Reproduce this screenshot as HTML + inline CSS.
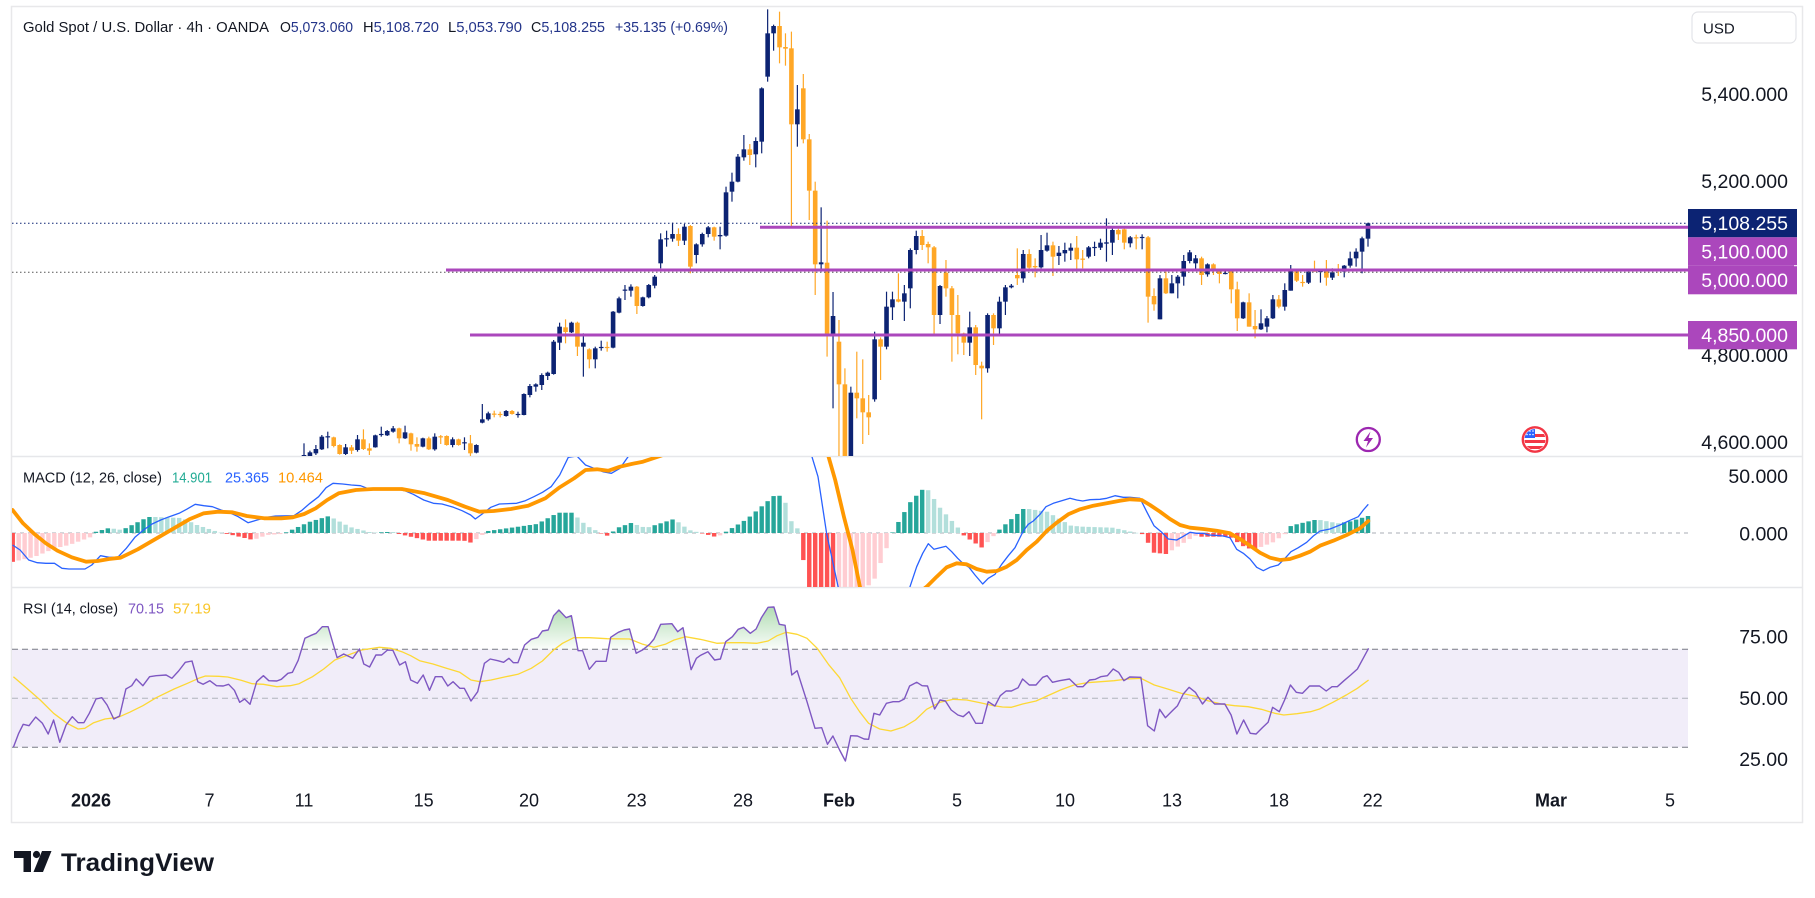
<!DOCTYPE html>
<html><head><meta charset="utf-8">
<style>
html,body{margin:0;padding:0;background:#fff;width:1815px;height:898px;overflow:hidden}
svg{display:block}
text{font-family:"Liberation Sans",sans-serif}
</style></head><body>
<svg id="s" width="1815" height="898" viewBox="0 0 1815 898" xmlns="http://www.w3.org/2000/svg">
<defs>
<clipPath id="cMain"><rect x="12" y="8" width="1676" height="448"/></clipPath>
<clipPath id="cMacd"><rect x="12" y="457" width="1676" height="130"/></clipPath>
<clipPath id="cRsi"><rect x="12" y="588" width="1676" height="193"/></clipPath>
<clipPath id="cOver"><rect x="12" y="588" width="1676" height="61.3"/></clipPath>
<clipPath id="cFlag"><circle cx="1535" cy="439.5" r="10.5"/></clipPath>
<linearGradient id="gG" gradientUnits="userSpaceOnUse" x1="0" y1="605" x2="0" y2="649">
<stop offset="0" stop-color="#4caf50" stop-opacity="0.45"/>
<stop offset="1" stop-color="#4caf50" stop-opacity="0.03"/>
</linearGradient>
</defs>
<rect x="0" y="0" width="1815" height="898" fill="#fff"/>
<!-- frame -->
<rect x="11.5" y="6.5" width="1791" height="816" fill="none" stroke="#e8e8ea" stroke-width="1.5"/>
<line x1="12" y1="456.5" x2="1802" y2="456.5" stroke="#e6e7ea" stroke-width="1.5"/>
<line x1="12" y1="587.5" x2="1802" y2="587.5" stroke="#e6e7ea" stroke-width="1.5"/>

<!-- RSI band -->
<rect x="12" y="649.3" width="1676" height="98" fill="#f1edf9"/>
<line x1="12" y1="649.3" x2="1688" y2="649.3" stroke="#787b86" stroke-width="1" stroke-dasharray="6 4"/>
<line x1="12" y1="698.3" x2="1688" y2="698.3" stroke="#b0b3bc" stroke-width="1" stroke-dasharray="6 4"/>
<line x1="12" y1="747.3" x2="1688" y2="747.3" stroke="#787b86" stroke-width="1" stroke-dasharray="6 4"/>
<!-- MACD zero -->
<line x1="12" y1="533" x2="1688" y2="533" stroke="#a9acb5" stroke-width="1" stroke-dasharray="4 4"/>

<g id="gMain" clip-path="url(#cMain)"></g>
<g id="gMacd" clip-path="url(#cMacd)"></g>
<g id="gRsi" clip-path="url(#cRsi)"></g>

<!-- main pane horizontal lines -->
<line x1="12" y1="223.3" x2="1688" y2="223.3" stroke="#0c2373" stroke-width="1" stroke-dasharray="1.5 2.5"/>
<line x1="12" y1="272.3" x2="1688" y2="272.3" stroke="#555" stroke-width="1" stroke-dasharray="1.5 2.5"/>
<line x1="760" y1="227.3" x2="1688" y2="227.3" stroke="#ab47bc" stroke-width="3"/>
<line x1="446" y1="270" x2="1688" y2="270" stroke="#ab47bc" stroke-width="3"/>
<line x1="470" y1="335" x2="1688" y2="335" stroke="#ab47bc" stroke-width="3"/>

<!-- title -->
<text x="23" y="32" font-size="15" fill="#131722" textLength="246" lengthAdjust="spacingAndGlyphs">Gold Spot / U.S. Dollar · 4h · OANDA</text>
<text x="280" y="32" font-size="15" fill="#24358a" textLength="73" lengthAdjust="spacingAndGlyphs"><tspan fill="#131722">O</tspan>5,073.060</text>
<text x="363" y="32" font-size="15" fill="#24358a" textLength="76" lengthAdjust="spacingAndGlyphs"><tspan fill="#131722">H</tspan>5,108.720</text>
<text x="448" y="32" font-size="15" fill="#24358a" textLength="74" lengthAdjust="spacingAndGlyphs"><tspan fill="#131722">L</tspan>5,053.790</text>
<text x="531" y="32" font-size="15" fill="#24358a" textLength="74" lengthAdjust="spacingAndGlyphs"><tspan fill="#131722">C</tspan>5,108.255</text>
<text x="615" y="32" font-size="15" fill="#24358a" textLength="113" lengthAdjust="spacingAndGlyphs">+35.135 (+0.69%)</text>

<!-- MACD legend -->
<text x="23" y="482.5" font-size="15" fill="#131722" textLength="139" lengthAdjust="spacingAndGlyphs">MACD (12, 26, close)</text>
<text x="172" y="482.5" font-size="15" fill="#22ab94" textLength="40" lengthAdjust="spacingAndGlyphs">14.901</text>
<text x="225" y="482.5" font-size="15" fill="#2962ff" textLength="44" lengthAdjust="spacingAndGlyphs">25.365</text>
<text x="278" y="482.5" font-size="15" fill="#ff9800" textLength="45" lengthAdjust="spacingAndGlyphs">10.464</text>
<!-- RSI legend -->
<text x="23" y="613.5" font-size="15" fill="#131722" textLength="95" lengthAdjust="spacingAndGlyphs">RSI (14, close)</text>
<text x="128" y="613.5" font-size="15" fill="#7e57c2" textLength="36" lengthAdjust="spacingAndGlyphs">70.15</text>
<text x="173" y="613.5" font-size="15" fill="#f9c62a" textLength="38" lengthAdjust="spacingAndGlyphs">57.19</text>

<!-- icons -->
<circle cx="1368.3" cy="439.5" r="11.5" fill="#fff" stroke="#9c27b0" stroke-width="2.3"/>
<path d="M1370.5 431.5 L1363.5 441 L1368 441 L1366 447.5 L1373 438 L1368.5 438 Z" fill="#9c27b0"/>
<g clip-path="url(#cFlag)">
<rect x="1522" y="427" width="27" height="26" fill="#fff"/>
<rect x="1522" y="434" width="27" height="3" fill="#f23645"/>
<rect x="1522" y="440" width="27" height="3" fill="#f23645"/>
<rect x="1522" y="446" width="27" height="3" fill="#f23645"/>
<rect x="1522" y="428" width="13" height="10" fill="#2962ff"/>
<circle cx="1527" cy="431" r="0.8" fill="#fff"/><circle cx="1530" cy="431" r="0.8" fill="#fff"/><circle cx="1533" cy="431" r="0.8" fill="#fff"/>
<circle cx="1527" cy="434.5" r="0.8" fill="#fff"/><circle cx="1530" cy="434.5" r="0.8" fill="#fff"/><circle cx="1533" cy="434.5" r="0.8" fill="#fff"/>
</g>
<circle cx="1535" cy="439.5" r="12.2" fill="none" stroke="#f23645" stroke-width="2.4"/>

<!-- price scale -->
<rect x="1692" y="12" width="104" height="31" rx="6" fill="#fff" stroke="#e3e4e8" stroke-width="1.2"/>
<text x="1703" y="33.5" font-size="15" fill="#131722">USD</text>
<g font-size="19.5" fill="#131722" text-anchor="end">
<text x="1788" y="101">5,400.000</text>
<text x="1788" y="188">5,200.000</text>
<text x="1788" y="362">4,800.000</text>
<text x="1788" y="449">4,600.000</text>
<text x="1788" y="483">50.000</text>
<text x="1788" y="540.5">0.000</text>
<text x="1788" y="643.5">75.00</text>
<text x="1788" y="705">50.00</text>
<text x="1788" y="766">25.00</text>
</g>
<rect x="1688" y="209" width="109" height="28.3" fill="#0c2373"/>
<rect x="1688" y="237.3" width="109" height="28.4" fill="#ab47bc"/>
<rect x="1688" y="265.7" width="109" height="28.6" fill="#ab47bc"/>
<line x1="1794" y1="265.7" x2="1797" y2="265.7" stroke="#fff" stroke-width="1"/>
<rect x="1688" y="321" width="109" height="28.3" fill="#ab47bc"/>
<g font-size="19.5" fill="#fff" text-anchor="end">
<text x="1788" y="230">5,108.255</text>
<text x="1788" y="258.5">5,100.000</text>
<text x="1788" y="287">5,000.000</text>
<text x="1788" y="342">4,850.000</text>
</g>

<!-- time axis -->
<g font-size="18" fill="#131722" text-anchor="middle">
<text x="91" y="806.5" font-weight="bold">2026</text>
<text x="209.5" y="806.5">7</text>
<text x="304" y="806.5">11</text>
<text x="423.6" y="806.5">15</text>
<text x="529" y="806.5">20</text>
<text x="636.6" y="806.5">23</text>
<text x="743" y="806.5">28</text>
<text x="839" y="806.5" font-weight="bold">Feb</text>
<text x="957" y="806.5">5</text>
<text x="1065" y="806.5">10</text>
<text x="1172" y="806.5">13</text>
<text x="1279" y="806.5">18</text>
<text x="1372.7" y="806.5">22</text>
<text x="1551" y="806.5" font-weight="bold">Mar</text>
<text x="1670" y="806.5">5</text>
</g>

<!-- TradingView logo -->
<path d="M14 851 H31 V872 H23.5 V858 H14 Z" fill="#131722"/>
<circle cx="36.5" cy="854.5" r="3.6" fill="#131722"/>
<path d="M42 851 H51.5 L43 872 H33.5 Z" fill="#131722"/>
<text x="61" y="871" font-size="25" font-weight="bold" fill="#131722" textLength="153" lengthAdjust="spacingAndGlyphs">TradingView</text>
</svg>

<script>
(function(){
const NS='http://www.w3.org/2000/svg';
function el(tag,attrs,parent){const e=document.createElementNS(NS,tag);for(const k in attrs)e.setAttribute(k,attrs[k]);parent.appendChild(e);return e;}
const gMain=document.getElementById('gMain');
const gMacd=document.getElementById('gMacd');
const gRsi=document.getElementById('gRsi');

// candles: [type, bodyTop, bodyBot, wickTop, wickBot] in 3x image units
const C=[
['u',1365,1372,1330,1372],['u',1357,1368,1352,1372],['u',1347,1360,1335,1365],['u',1310,1348,1305,1350],['u',1309,1312,1295,1345],
['d',1312,1338,1310,1342],['d',1335,1362,1333,1364],['u',1342,1362,1332,1365],['d',1342,1352,1335,1362],['u',1318,1350,1305,1355],
['d',1318,1347,1288,1350],['d',1345,1352,1330,1365],['u',1306,1342,1304,1343],['u',1302,1305,1280,1310],['u',1293,1306,1290,1308],
['u',1285,1295,1278,1298],['d',1285,1315,1283,1330],['u',1297,1315,1277,1317],['d',1300,1333,1298,1352],['d',1332,1340,1312,1355],
['u',1315,1340,1313,1342],['d',1315,1348,1310,1350],['u',1310,1348,1300,1352],['d',1309,1312,1305,1332],['d',1308,1335,1306,1337],
['u',1318,1335,1312,1342],['d',1318,1335,1316,1337],['u',1327,1330,1312,1350],['d',1330,1360,1305,1368],['u',1335,1358,1333,1360],
['u',1258,1268,1212,1270],['u',1240,1258,1235,1262],['d',1241,1244,1232,1252],['d',1242,1245,1235,1252],['u',1233,1248,1230,1250],
['d',1233,1242,1230,1244],['u',1242,1245,1235,1253],['u',1182,1245,1180,1246],['u',1158,1185,1152,1192],['u',1153,1160,1150,1175],
['u',1125,1155,1120,1170],['u',1118,1128,1115,1140],['u',1025,1122,1020,1124],['u',980,1028,968,1050],['d',982,996,958,1030],
['u',968,997,965,999],['d',968,1040,965,1068],['u',1028,1040,1000,1130],['d',1048,1078,1045,1105],['u',1045,1078,1040,1105],
['u',1041,1044,1022,1052],['d',1041,1044,1025,1055],['u',935,1043,933,1045],['u',895,938,890,940],['u',869,872,855,900],
['u',860,872,853,890],['d',860,918,858,942],['u',892,918,890,920],['u',855,892,852,895],['u',830,857,825,865],
['u',718,790,700,805],['u',715,718,692,740],
['u',702,716,668,725],['d',702,722,685,738],['u',680,722,672,735],['d',678,800,675,820],['u',733,765,730,790],
['u',702,733,698,740],['u',682,702,678,712],['d',682,710,680,722],['u',705,709,680,748],['u',577,707,560,710],
['u',545,575,518,605],['u',470,545,462,547],['u',448,472,405,482],['d',448,465,432,495],['u',423,463,412,502],
['u',265,425,262,460],['u',100,230,28,245],['u',78,100,74,152],['d',78,142,35,190],['d',141,146,100,197],
['d',145,373,95,682],['u',328,373,255,440],['d',265,418,222,430],['d',418,572,402,660],['d',572,793,545,885],
['u',787,793,622,815],['d',788,1005,662,1070],['u',948,1005,876,1225],['d',1025,1153,960,1380],['d',1153,1380,1105,1380],
['u',1178,1380,1160,1380],['d',1178,1195,1055,1255],['d',1195,1237,1078,1332],['d',1237,1252,1185,1305],['u',1018,1198,995,1205],
['d',1018,1040,1012,1140],['u',920,1040,875,1048],['u',898,922,875,960],['d',898,905,820,907],['u',880,905,855,963],
['u',750,865,745,925],['u',708,750,692,763],['d',708,735,690,750],['d',732,742,725,790],['d',742,945,738,1005],
['u',858,945,855,972],['d',818,865,780,890],['d',865,945,858,1085],['d',945,1000,885,1063],['d',1000,1028,998,1065],
['u',982,1028,935,1068],['d',982,1095,975,1125],['d',1097,1105,1085,1258],['u',945,1105,940,1118],['d',945,985,940,1035],
['u',905,985,890,1002],['u',862,905,855,945],['u',857,862,852,865],['d',825,835,745,855],['u',762,835,750,848],
['d',762,803,748,812],['d',798,802,775,832],
['u',750,802,705,805],['u',736,752,698,755],['d',736,770,725,828],['u',758,768,738,795],['u',750,760,728,785],
['u',743,752,730,780],['d',743,778,708,812],['d',776,779,750,805],['u',742,770,738,775],['u',741,744,725,768],
['u',728,743,716,750],['u',727,731,655,785],['u',690,728,683,765],['d',690,703,686,720],['d',688,728,684,748],
['u',712,730,708,742],['d',712,715,704,748],['u',711,714,703,748],['d',712,890,708,968],['d',888,913,865,932],
['u',835,958,825,958],['d',835,880,815,882],['u',850,880,825,880],['u',830,850,825,895],['u',783,830,765,857],
['u',757,783,750,790],['u',775,790,765,808],['d',775,825,770,855],['u',793,823,790,830],['d',793,812,790,825],
['d',812,822,808,850],['u',819,822,812,823],['d',812,868,810,910],['d',868,955,845,993],['u',907,955,905,957],
['d',907,980,880,980],['d',978,988,930,1015],['u',970,988,928,990],['u',955,980,948,997],['u',898,955,885,957],
['d',898,920,885,925],['u',870,920,850,932],['u',812,872,795,872],['d',812,842,808,846],['d',846,849,825,860],
['u',815,848,812,852],['d',812,815,782,815],['u',813,816,810,848],['d',813,833,780,857],['u',817,833,805,840],
['d',809,812,792,828],['u',797,815,795,832],['u',775,797,755,803],['u',755,775,745,800],['u',715,755,710,820],
['u',670,716,668,740]
];
const SP=(1368-304)/(C.length-1);
C.forEach((c,i)=>{
  const x=304+SP*i;
  const col=c[0]==='u'?'#0c2373':'#ffa726';
  el('line',{x1:x.toFixed(2),x2:x.toFixed(2),y1:(c[3]/3).toFixed(2),y2:(c[4]/3).toFixed(2),stroke:col,'stroke-width':1.2},gMain);
  let t=c[1]/3,b=c[2]/3;if(b-t<1.2){const m=(t+b)/2;t=m-0.6;b=m+0.6;}
  el('rect',{x:(x-2.3).toFixed(2),y:t.toFixed(2),width:4.6,height:(b-t).toFixed(2),fill:col},gMain);
});

function interp(P,x){
  if(x<=P[0][0])return P[0][1];
  for(let i=1;i<P.length;i++){if(x<=P[i][0]){const a=P[i-1],b=P[i];return a[1]+(b[1]-a[1])*(x-a[0])/(b[0]-a[0]);}}
  return P[P.length-1][1];
}
// MACD histogram envelope (real coords)
const H=[[12,562],[34,557],[56,548],[69,545],[91,537],[95,532],[109,528],[122,530],[148,517],[155,517],[182,518],[197,525],[218,532],[225,533.5],[232,535],[253,540],[267,535],[281,534],[287,532],[309,522],[329,516],[350,527],[372,532.7],[386,532],[393,532],[399,534],[428,540.7],[464,540.7],[471,542.7],[478,538],[488,531],[537,524],[558,512.7],[572,512.7],[587,526],[602,533.5],[608,536],[617,528],[631,523],[646,528],[674,519],[689,530],[703,533.5],[717,537.3],[726,531.7],[747,519],[769,500],[776,494],[784,498],[791,520.7],[801,532.7],[806,592],[836,630],[860,590],[873,583],[879,567],[887,547],[893,531],[899,521],[911,501],[923,489],[928,490],[940,507.7],[958,527.7],[964,535.7],[982,547.7],[993,536.7],[1000,529],[1023,509],[1029,509],[1047,511.7],[1071,525.7],[1083,526.7],[1113,527.7],[1131,531.7],[1143,534.3],[1154,552.7],[1166,554],[1183,543.3],[1195,535.7],[1201,536.7],[1230,536.7],[1242,545.7],[1253,550],[1273,542.3],[1285,534],[1291,525.7],[1314,520],[1320,520],[1338,523.3],[1349,521.7],[1368,516]];
const Z=533;let prev=null;
for(let k=-49;k<C.length;k++){
  const x=304+SP*k; if(x<12)continue;
  const y=interp(H,x);
  let col;
  if(y<=Z){col=(prev===null||y<=prev)?'#26a69a':'#b2dfdb';}
  else{col=(prev===null||y>=prev)?'#ff5252':'#ffcdd2';}
  prev=y;
  const t=Math.min(y,Z),b=Math.max(y,Z);
  el('rect',{x:(x-2.2).toFixed(2),y:t.toFixed(2),width:4.4,height:Math.max(0.5,b-t).toFixed(2),fill:col},gMacd);
}
const z4=p=>[p[0]/1.742,450+p[1]/3];
const z8=p=>[860+p[0]/3,455+p[1]/3];
const z9=p=>[p[0]/2.24,585+p[1]/3];
const z10=p=>[690+p[0]/2.24,585+p[1]/3];
function pathOf(pts){return 'M'+pts.map(p=>p[0].toFixed(1)+' '+p[1].toFixed(1)).join(' L');}
function merge(a,fa,b,fb,cut){return a.map(fa).filter(p=>p[0]<cut).concat(b.map(fb).filter(p=>p[0]>=cut));}

const B4=[[22,285],[35,300],[50,330],[65,338],[80,340],[95,340],[108,355],[120,357],[148,357],[160,345],[175,317],[190,322],[205,322],[220,295],[235,262],[250,240],[265,222],[280,210],[295,200],[312,190],[325,178],[340,163],[355,167],[370,170],[385,180],[400,188],[415,200],[432,218],[448,210],[465,202],[480,198],[512,197],[525,182],[540,160],[555,140],[568,113],[580,100],[597,102],[612,105],[628,107],[640,115],[655,117],[690,117],[705,122],[720,133],[738,150],[755,160],[770,162],[790,172],[805,182],[820,195],[828,207],[840,192],[855,172],[870,162],[900,160],[915,152],[930,140],[945,127],[960,110],[975,75],[990,22],[1005,18],[1020,45],[1035,55],[1050,65],[1065,70],[1080,55],[1095,18],[1110,-10],[1150,-60],[1300,-100],[1400,-40],[1410,-5],[1425,80],[1440,250],[1460,410],[1480,520]];
const B8=[[100,520],[150,395],[170,335],[188,295],[205,266],[222,283],[240,278],[258,274],[275,290],[293,310],[310,326],[327,337],[345,360],[368,387],[385,370],[405,358],[425,328],[445,302],[465,278],[478,252],[490,228],[505,208],[520,198],[540,178],[558,155],[580,145],[605,137],[630,130],[650,135],[668,138],[690,134],[720,133],[740,130],[765,122],[790,127],[810,127],[840,130],[860,170],[882,212],[905,232],[925,252],[950,255],[968,245],[990,232],[1010,235],[1030,235],[1045,240],[1065,241],[1090,243],[1110,248],[1130,283],[1150,295],[1170,312],[1190,337],[1210,347],[1230,337],[1255,330],[1275,310],[1293,290],[1315,278],[1340,262],[1360,243],[1380,228],[1410,222],[1440,210],[1470,196],[1495,185],[1510,165],[1525,148]];
const S4=[[22,180],[40,220],[60,252],[80,280],[100,302],[125,322],[150,335],[170,333],[190,327],[210,323],[240,298],[270,268],[300,238],[330,208],[355,190],[380,185],[405,187],[430,198],[460,205],[490,205],[510,202],[530,192],[550,175],[570,150],[590,130],[620,120],[650,117],[700,117],[740,130],[780,150],[810,170],[835,185],[860,183],[890,177],[920,167],[950,145],[975,112],[1000,85],[1020,60],[1040,58],[1060,62],[1080,50],[1100,42],[1120,35],[1150,18],[1170,5],[1200,-20],[1300,-60],[1400,-40],[1440,0],[1455,90],[1470,200],[1485,300],[1498,410],[1510,480]];
const S8=[[100,470],[200,395],[230,365],[260,337],[290,325],[320,328],[350,342],[380,350],[410,348],[440,335],[470,315],[500,285],[530,260],[560,228],[590,203],[625,178],[660,163],[700,152],[740,145],[780,137],[810,133],[845,135],[870,150],[900,170],[930,192],[960,210],[990,218],[1030,222],[1070,227],[1110,235],[1140,252],[1170,272],[1200,293],[1230,308],[1260,315],[1290,312],[1320,302],[1350,290],[1380,272],[1420,257],[1460,240],[1500,220],[1525,198]];
const blue=merge(B4,z4,B8,z8,870);
const sig=merge(S4,z4,S8,z8,870);
el('path',{d:pathOf(blue),fill:'none',stroke:'#2962ff','stroke-width':1.3,'stroke-linejoin':'round'},gMacd);
el('path',{d:pathOf(sig),fill:'none',stroke:'#ff9800','stroke-width':3.8,'stroke-linejoin':'round','stroke-linecap':'round'},gMacd);

// RSI
const R9=[[30,487],[42,445],[52,418],[65,422],[80,396],[95,415],[108,447],[120,405],[134,472],[148,420],[162,395],[175,413],[188,413],[200,385],[215,342],[228,338],[240,360],[255,402],[268,393],[282,312],[295,302],[305,282],[320,302],[335,275],[350,272],[372,270],[385,280],[400,258],[415,232],[430,228],[443,290],[455,298],[470,287],[485,302],[500,303],[512,298],[525,316],[537,352],[548,342],[560,358],[575,290],[590,272],[602,287],[620,288],[630,283],[645,265],[655,262],[668,226],[683,160],[695,152],[708,145],[722,125],[735,125],[755,218],[770,207],[790,220],[805,192],[815,237],[828,246],[842,210],[855,210],[868,195],[880,196],[895,240],[908,230],[920,285],[935,295],[948,270],[962,316],[975,275],[990,275],[1003,303],[1015,290],[1030,310],[1040,310],[1055,348],[1070,320],[1085,235],[1098,222],[1115,227],[1128,232],[1140,220],[1150,233],[1160,233],[1175,180],[1190,163],[1205,157],[1215,138],[1228,135],[1240,92],[1252,75],[1268,98],[1280,92],[1295,197],[1305,197],[1320,253],[1335,229],[1358,229],[1368,157],[1385,142],[1398,135],[1410,132],[1425,205],[1440,194],[1455,178],[1465,162],[1480,118],[1505,116],[1518,140],[1530,128],[1548,254],[1560,220],[1568,212]];
const R10=[[0,255],[15,222],[25,210],[40,200],[55,225],[68,222],[80,170],[95,155],[108,133],[120,127],[135,145],[148,132],[160,98],[175,67],[188,66],[200,118],[213,121],[228,270],[240,257],[262,350],[280,430],[295,428],[308,478],[320,453],[335,495],[348,528],[360,452],[375,453],[390,462],[400,463],[412,385],[425,390],[440,355],[455,350],[468,350],[480,342],[492,303],[508,292],[520,302],[532,303],[548,372],[560,345],[572,348],[585,375],[600,390],[612,395],[625,380],[640,415],[655,415],[668,350],[683,363],[695,332],[708,318],[720,318],[735,308],[745,282],[760,300],[775,300],[790,277],[800,272],[812,292],[828,287],[850,282],[868,305],[880,305],[895,285],[908,283],[920,275],[935,272],[948,252],[960,262],[972,287],[985,276],[1010,277],[1025,422],[1040,438],[1052,373],[1065,398],[1080,378],[1092,362],[1105,327],[1118,307],[1132,322],[1148,357],[1160,337],[1175,357],[1198,357],[1212,390],[1225,447],[1240,405],[1255,445],[1268,447],[1282,428],[1295,412],[1305,367],[1320,380],[1332,345],[1345,300],[1358,322],[1372,325],[1388,303],[1410,303],[1425,318],[1438,305],[1450,305],[1465,287],[1480,270],[1495,252],[1508,220],[1520,190]];
const Y9=[[30,275],[60,310],[90,345],[120,385],[150,415],[175,432],[190,430],[210,413],[235,402],[265,397],[290,382],[320,362],[350,338],[390,312],[420,295],[445,280],[460,273],[490,274],[510,276],[540,286],[565,296],[590,298],[620,305],[650,302],[670,296],[700,275],[725,252],[750,225],[780,210],[810,195],[850,187],[875,190],[900,200],[920,212],[940,227],[970,237],[1000,250],[1030,262],[1055,285],[1075,290],[1100,285],[1130,276],[1160,268],[1190,250],[1215,228],[1240,195],[1260,175],[1285,158],[1320,158],[1360,161],[1410,162],[1440,178],[1465,187],[1490,178],[1510,165],[1535,155],[1568,163]];
const Y10=[[0,157],[30,165],[60,175],[90,173],[120,173],[150,175],[175,168],[195,152],[215,142],[240,148],[262,160],[285,190],[310,238],[335,278],[360,340],[380,380],[400,415],[425,432],[450,438],[480,425],[505,405],[530,373],[560,352],[590,343],[620,345],[650,353],[680,362],[700,366],[720,367],[745,357],[775,348],[800,333],[830,315],[860,300],[890,293],[920,290],[950,287],[980,282],[1010,280],[1040,300],[1070,312],[1100,325],[1130,333],[1160,347],[1190,357],[1220,362],[1250,365],[1280,373],[1310,385],[1330,390],[1360,386],[1390,380],[1410,372],[1440,352],[1470,330],[1495,310],[1520,285]];
const rsi=merge(R9,z9,R10,z10,700.5);
const ma=merge(Y9,z9,Y10,z10,700.5);
// overbought fill
const g2=el('g',{'clip-path':'url(#cOver)'},gRsi);
const poly=rsi.slice();poly.push([rsi[rsi.length-1][0],649.3]);poly.push([rsi[0][0],649.3]);
el('path',{d:pathOf(poly)+' Z',fill:'url(#gG)',stroke:'none'},g2);
el('path',{d:pathOf(ma),fill:'none',stroke:'#fdd835','stroke-width':1.3,'stroke-linejoin':'round'},gRsi);
el('path',{d:pathOf(rsi),fill:'none',stroke:'#7e57c2','stroke-width':1.4,'stroke-linejoin':'round'},gRsi);
})();
</script>
</body></html>
